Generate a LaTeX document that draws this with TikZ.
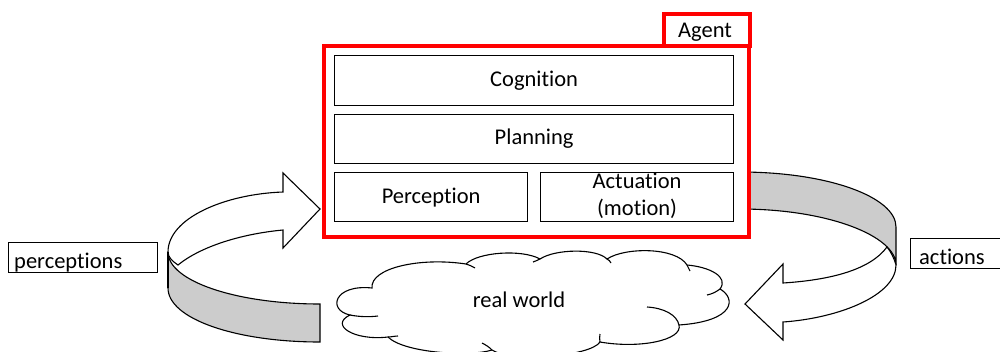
\documentclass[tikz,border=0pt]{standalone}
\usepackage{fontspec}
\setmainfont{Carlito}[Ligatures=CommonOff]
\begin{document}
\begin{tikzpicture}[x=1pt,y=-1pt,
  lbl/.style={font=\fontsize{22.5}{27}\selectfont, inner sep=0pt, align=center},
  layer/.style={draw=black, line width=1.2pt, fill=white},
  band/.style={draw=black, line width=1.1pt, fill=black!20},
  ribbon/.style={draw=black, line width=1.1pt, fill=white, line join=miter},
  frame/.style={draw=red, line width=3.6pt, fill=white},
  tag/.style={draw=black, line width=1pt, fill=white},
  puff/.style={draw=black, line width=1.1pt, fill=white},
  crease/.style={draw=black, line width=1.1pt}]
\useasboundingbox (0,0) rectangle (1000,351);

% back side of the right ribbon (runs behind the agent frame)
\path[band] (740,172) .. controls (828,172) and (896,197) .. (896,227)
  -- (896,265) .. controls (896,236) and (828,209) .. (740,209) -- cycle;

% agent frame with its tab
\node[frame, minimum width=86pt, minimum height=32pt, anchor=north west] (tab) at (662,12) {};
\node[lbl, anchor=base] (agentlbl) at (705,37) {Agent};
\node[frame, minimum width=425pt, minimum height=191pt, anchor=north west] (agent) at (322,44) {};

% stacked layers
\node[layer, minimum width=399pt, minimum height=50pt, anchor=north west] (cog) at (334,55) {};
\node[lbl] at (cog.center) {Cognition};
\node[layer, minimum width=399pt, minimum height=49pt, anchor=north west] (plan) at (334,114) {};
\node[lbl] at (plan.center) {Planning};
\node[layer, minimum width=193pt, minimum height=49pt, anchor=north west] (perc) at (334,172) {};
\node[lbl] at (perc.center) {Perception};
\node[layer, minimum width=193pt, minimum height=49pt, anchor=north west] (act) at (540,172) {};
\node[lbl] at ([yshift=1pt]act.center) {Actuation\\(motion)};

% the world: a cloud of puffs
\path[puff] (372,288)
  .. controls (370,268) and (420,257) .. (466,264)
  .. controls (478,252) and (522,249) .. (540,259)
  .. controls (555,249) and (596,248) .. (607,259)
  .. controls (625,247) and (676,247) .. (687,265)
  .. controls (710,267) and (729,277) .. (720,289)
  .. controls (736,298) and (736,321) .. (679,325)
  .. controls (683,340) and (640,349) .. (600,342)
  .. controls (590,357) and (510,362) .. (492,350)
  .. controls (470,357) and (404,353) .. (388,337)
  .. controls (354,341) and (329,325) .. (350,315)
  .. controls (327,310) and (334,284) .. (372,288) -- cycle;
\draw[crease] (350,315) .. controls (360,317) and (370,317) .. (378,316);
\draw[crease] (388,337) .. controls (391,337) and (395,336) .. (398,336);
\draw[crease] (466,264) .. controls (469,265) and (472,266) .. (475,268);
\draw[crease] (540,259) .. controls (538,260) and (536,261) .. (533,262);
\draw[crease] (607,259) .. controls (609,260) and (610,261) .. (611,263);
\draw[crease] (687,265) .. controls (688,267) and (689,269) .. (690,271);
\draw[crease] (720,289) .. controls (716,292) and (712,294) .. (707,295);
\draw[crease] (647,307) .. controls (664,308) and (677,315) .. (679,325);
\draw[crease] (600,342) .. controls (600,339) and (599,337) .. (600,334);
\draw[crease] (492,350) .. controls (489,347) and (486,345) .. (482,343);
\node[lbl] (worldlbl) at (519,300) {real world};

% left ribbon: perceptions flowing into the agent
\path[band] (168,252) .. controls (168,281) and (236,304) .. (320,304)
  -- (320,342) .. controls (236,342) and (168,319) .. (168,288) -- cycle;
\path[ribbon] (168,252) .. controls (168,218) and (225,194) .. (283,192)
  -- (283,173) -- (320,209) -- (283,248) -- (283,230)
  .. controls (240,234) and (200,247) .. (178,265)
  .. controls (172,261) and (168,257) .. (168,252) -- cycle;
\draw[line width=1.1pt] (168,252) -- (168,288);

% right ribbon: actions flowing into the world
\path[ribbon] (887,247) .. controls (870,270) and (830,280) .. (783,283)
  -- (783,264) -- (745,304) -- (783,340) -- (783,322)
  .. controls (840,318) and (896,295) .. (896,265)
  .. controls (894,258) and (891,252) .. (887,247) -- cycle;

% side labels
\draw[tag] (8,242) rectangle (157,272);
\node[lbl, anchor=base west] (perclbl) at (14,268) {perceptions};
\draw[tag] (910,238) rectangle (1003,268);
\node[lbl, anchor=base west] (actlbl) at (919,264) {actions};
\end{tikzpicture}
\end{document}
